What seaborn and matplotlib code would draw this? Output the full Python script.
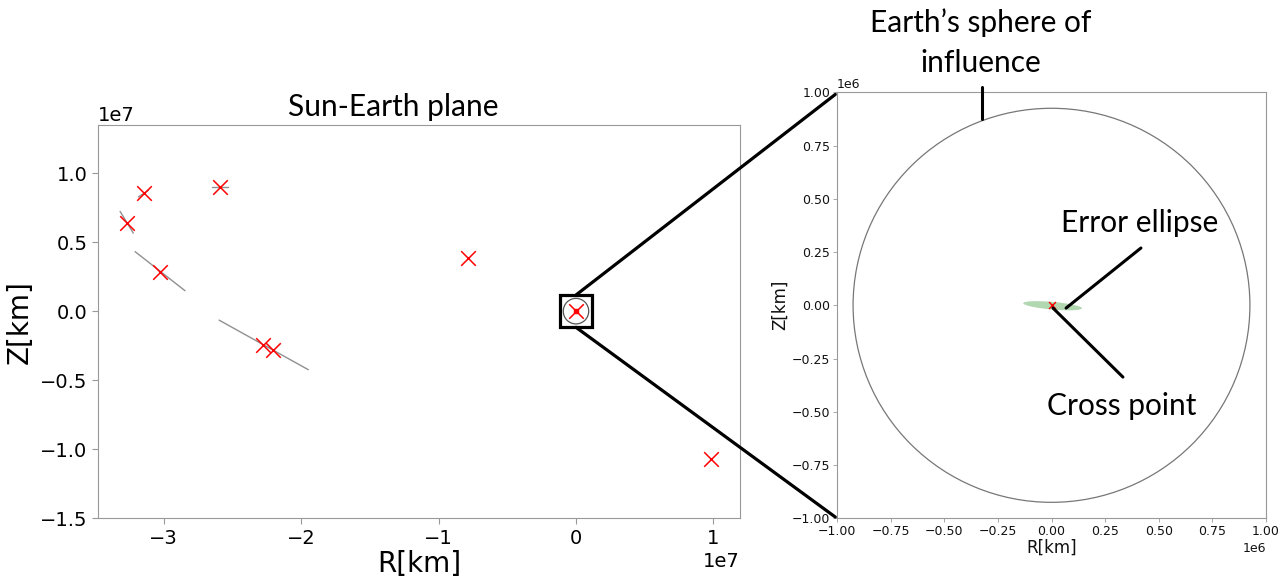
import numpy as np
import matplotlib
matplotlib.use("Agg")
import matplotlib.pyplot as plt
import seaborn as sns
import pandas as pd
from matplotlib.patches import Circle, Ellipse, Rectangle, ConnectionPatch

# ---------------- data ----------------
point_r = [-3.268e7, -3.140e7, -2.589e7, -3.025e7, -2.274e7, -2.201e7, -0.783e7, 0.0, 0.980e7]
point_z = [0.638e7, 0.856e7, 0.900e7, 0.286e7, -0.247e7, -0.284e7, 0.383e7, 0.0, -1.067e7]

seg_r0 = [-3.316e7, -3.183e7, -2.650e7, -3.207e7, -2.596e7]
seg_r1 = [-3.220e7, -3.110e7, -2.529e7, -2.844e7, -1.947e7]
seg_z0 = [0.722e7, 0.827e7, 0.900e7, 0.431e7, -0.065e7]
seg_z1 = [0.565e7, 0.875e7, 0.900e7, 0.148e7, -0.424e7]

soi_radius = 0.925e6
cross_r = [0.0]
cross_z = [0.0]
ellipse_center = (0.005e6, -0.002e6)
ellipse_width = 0.275e6
ellipse_height = 0.036e6
ellipse_angle = -5

left_xticks = [-3e7, -2e7, -1e7, 0, 1e7]
left_yticks = [-1.5e7, -1.0e7, -0.5e7, 0, 0.5e7, 1.0e7]
right_ticks = [-1e6, -0.75e6, -0.5e6, -0.25e6, 0, 0.25e6, 0.5e6, 0.75e6, 1e6]

# ---------------- style ----------------
sns.set_style("ticks", {"axes.edgecolor": "#999999", "xtick.color": "#999999",
                        "ytick.color": "#999999", "text.color": "black",
                        "axes.labelcolor": "black"})
plt.rcParams["font.family"] = ["DejaVu Sans"]
plt.rcParams["text.color"] = "black"
plt.rcParams["axes.labelcolor"] = "black"
ann_font = ["Lato", "DejaVu Sans"]

W, H = 1287, 579
fig = plt.figure(figsize=(W / 100, H / 100), dpi=100)

def fx(px):
    return px / W

def fy(py):
    return 1 - py / H

axL = fig.add_axes([fx(97.7), fy(518.3), (740 - 97.7) / W, (518.3 - 125) / H])
axR = fig.add_axes([fx(837), fy(518.3), 429 / W, (518.3 - 92.3) / H])

# ---------------- left panel ----------------
seg_df = pd.DataFrame({
    "seg": list(range(len(seg_r0))) * 2,
    "R": seg_r0 + seg_r1,
    "Z": seg_z0 + seg_z1,
})
sns.lineplot(data=seg_df, x="R", y="Z", units="seg", estimator=None, sort=False,
             color="#909090", lw=1.0, ax=axL, legend=False)

pts_df = pd.DataFrame({"R": point_r, "Z": point_z})
sns.scatterplot(data=pts_df, x="R", y="Z", marker="x", color="red", s=110,
                linewidth=1.1, ax=axL, zorder=3)
axL.add_patch(Circle((0, 0), soi_radius, fill=False, ec="#555555", lw=0.9, zorder=2))
axL.plot(cross_r, cross_z, marker="s", ms=3, color="red", ls="none", zorder=4)
box_half = 1.17e6
axL.add_patch(Rectangle((-box_half, -box_half), 2 * box_half, 2 * box_half,
                        fill=False, ec="black", lw=2.3, zorder=5))

axL.set_xlim(-3.479e7, 1.193e7)
axL.set_ylim(-1.5e7, 1.348e7)
axL.set_xticks(left_xticks)
axL.set_yticks(left_yticks)
axL.tick_params(labelsize=14, labelcolor="black", length=4, width=0.8)
axL.xaxis.get_offset_text().set_fontsize(14)
axL.yaxis.get_offset_text().set_fontsize(14)
axL.xaxis.get_offset_text().set_color("black")
axL.yaxis.get_offset_text().set_color("black")
axL.set_xlabel("R[km]", fontsize=20, labelpad=2, color="black")
axL.set_ylabel("Z[km]", fontsize=20, labelpad=4, color="black")

# ---------------- right panel ----------------
axR.add_patch(Circle((0, 0), soi_radius, fill=False, ec="#777777", lw=0.9))
axR.add_patch(Ellipse(ellipse_center, ellipse_width, ellipse_height, angle=ellipse_angle,
                      color="green", alpha=0.3, lw=0))
cross_df = pd.DataFrame({"R": cross_r, "Z": cross_z})
sns.scatterplot(data=cross_df, x="R", y="Z", marker="x", color="red", s=25,
                linewidth=1.0, ax=axR, zorder=3)
axR.set_xlim(-1e6, 1e6)
axR.set_ylim(-1e6, 1e6)
axR.set_xticks(right_ticks)
axR.set_yticks(right_ticks)
axR.tick_params(labelsize=9, labelcolor="#111111", length=3, width=0.6, pad=2)
axR.xaxis.get_offset_text().set_fontsize(9)
axR.yaxis.get_offset_text().set_fontsize(9)
axR.xaxis.get_offset_text().set_color("#111111")
axR.yaxis.get_offset_text().set_color("#111111")
axR.set_xlabel("R[km]", fontsize=12, labelpad=0, color="#111111")
axR.set_ylabel("Z[km]", fontsize=12, labelpad=2, color="#111111")

# annotation pointer lines in right panel
axR.plot([-0.325e6, -0.325e6], [1.025e6, 0.875e6], color="black", lw=2.2,
         clip_on=False, zorder=6)
axR.plot([0.417e6, 0.068e6], [0.269e6, -0.013e6], color="black", lw=2.2, zorder=6)
axR.plot([0.007e6, 0.333e6], [-0.013e6, -0.337e6], color="black", lw=2.2, zorder=6)

# zoom connection lines
for yA, yB in [(box_half, 0.995), (-box_half, 0.003)]:
    con = ConnectionPatch(xyA=(0, yA), coordsA=axL.transData,
                          xyB=(-0.004, yB), coordsB=axR.transAxes,
                          color="black", lw=2.3)
    fig.add_artist(con)

# ---------------- texts ----------------
tsize = 21.5
fig.text(fx(393), fy(116), "Sun-Earth plane", ha="center", va="baseline",
         fontsize=tsize, family=ann_font, color="black")
fig.text(fx(981), fy(32), "Earth\u2019s sphere of", ha="center", va="baseline",
         fontsize=tsize, family=ann_font, color="black")
fig.text(fx(981), fy(72), "influence", ha="center", va="baseline",
         fontsize=tsize, family=ann_font, color="black")
fig.text(fx(1140), fy(232), "Error ellipse", ha="center", va="baseline",
         fontsize=tsize, family=ann_font, color="black")
fig.text(fx(1122), fy(415), "Cross point", ha="center", va="baseline",
         fontsize=tsize, family=ann_font, color="black")

fig.savefig("out.png", dpi=100)
